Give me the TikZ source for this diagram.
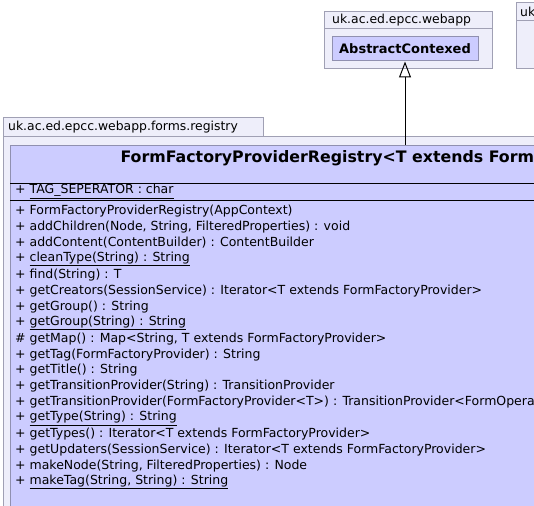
\documentclass[tikz,border=0pt]{standalone}
\usepackage{fontspec}
\setmainfont{DejaVu Sans}
\usetikzlibrary{arrows.meta, positioning}
\definecolor{pkgfill}{HTML}{EEEEFA}
\definecolor{pkgline}{HTML}{A0A0B4}
\definecolor{classfill}{HTML}{CCCCFF}
\definecolor{classline}{HTML}{9090B0}
\begin{document}
\begin{tikzpicture}[x=1pt,y=-1pt,node distance=15.95pt,on grid,
pkg/.style={draw=pkgline,fill=pkgfill,line width=1pt},
pkgname/.style={anchor=west,inner sep=0pt,font=\fontsize{12.4}{14}\selectfont},
class/.style={draw=classline,fill=classfill,line width=1pt,inner sep=0pt},
member/.style={anchor=west,inner sep=0pt,font=\fontsize{12.5}{14}\selectfont},
inherit/.style={-{Triangle[open,length=16pt,width=12pt]},line width=1pt}]
\useasboundingbox (0,0) rectangle (534,505);
\fill[white] (0,0) rectangle (534,505);
\clip (0,0) rectangle (534,505);
% packages
\draw[pkg] (324,12) rectangle (492,69);
\draw[pkgline,line width=1pt] (324,29) -- (492,29);
\node[pkgname] (webapp) at (332,20.5) {uk.ac.ed.epcc.webapp};
\draw[pkg] (516,3) rectangle (560,69);
\draw[pkgline,line width=1pt] (516,21) -- (560,21);
\node[pkgname] (uk) at (520,12) {uk};
\draw[pkg] (3,118) rectangle (263,136);
\draw[pkg] (3,136) rectangle (820,530);
\node[pkgname] (registrypkg) at (8,127) {uk.ac.ed.epcc.webapp.forms.registry};
% classes
\node[class,minimum width=146pt,minimum height=24pt,font=\bfseries\fontsize{13}{15}\selectfont] (abstract) at (405,49) {AbstractContexed};
\node[class,minimum width=790pt,minimum height=380pt,anchor=north] (registry) at (405,145) {};
\node[inner sep=0pt,font=\bfseries\fontsize{15.8}{18}\selectfont] (title) at (405,158) {FormFactoryProviderRegistry<T extends FormFactoryProvider>};
\draw[line width=1pt] (10,183) -- (800,183);
\node[member] (tagsep) at (15,191.5) {+ \underline{TAG\_SEPERATOR : char}};
\draw[line width=1.6pt] (10,200.5) -- (800,200.5);
% operations
\node[member] (ctor) at (15,211) {+ FormFactoryProviderRegistry(AppContext)};
\node (addChildren) [below=of ctor.west,member] {+ addChildren(Node, String, FilteredProperties) : void};
\node (addContent) [below=of addChildren.west,member] {+ addContent(ContentBuilder) : ContentBuilder};
\node (cleanType) [below=of addContent.west,member] {+ \underline{cleanType(String) : String}};
\node (find) [below=of cleanType.west,member] {+ find(String) : T};
\node (getCreators) [below=of find.west,member] {+ getCreators(SessionService) : Iterator<T extends FormFactoryProvider>};
\node (getGroup) [below=of getCreators.west,member] {+ getGroup() : String};
\node (getGroupStr) [below=of getGroup.west,member] {+ \underline{getGroup(String) : String}};
\node (getMap) [below=of getGroupStr.west,member] {\# getMap() : Map<String, T extends FormFactoryProvider>};
\node (getTag) [below=of getMap.west,member] {+ getTag(FormFactoryProvider) : String};
\node (getTitle) [below=of getTag.west,member] {+ getTitle() : String};
\node (getTransition) [below=of getTitle.west,member] {+ getTransitionProvider(String) : TransitionProvider};
\node (getTransitionT) [below=of getTransition.west,member] {+ getTransitionProvider(FormFactoryProvider<T>) : TransitionProvider<FormOperation>};
\node (getType) [below=of getTransitionT.west,member] {+ \underline{getType(String) : String}};
\node (getTypes) [below=of getType.west,member] {+ getTypes() : Iterator<T extends FormFactoryProvider>};
\node (getUpdaters) [below=of getTypes.west,member] {+ getUpdaters(SessionService) : Iterator<T extends FormFactoryProvider>};
\node (makeNode) [below=of getUpdaters.west,member] {+ makeNode(String, FilteredProperties) : Node};
\node (makeTag) [below=of makeNode.west,member] {+ \underline{makeTag(String, String) : String}};
% generalisation
\draw[inherit] (registry) -- (abstract);
\end{tikzpicture}
\end{document}
